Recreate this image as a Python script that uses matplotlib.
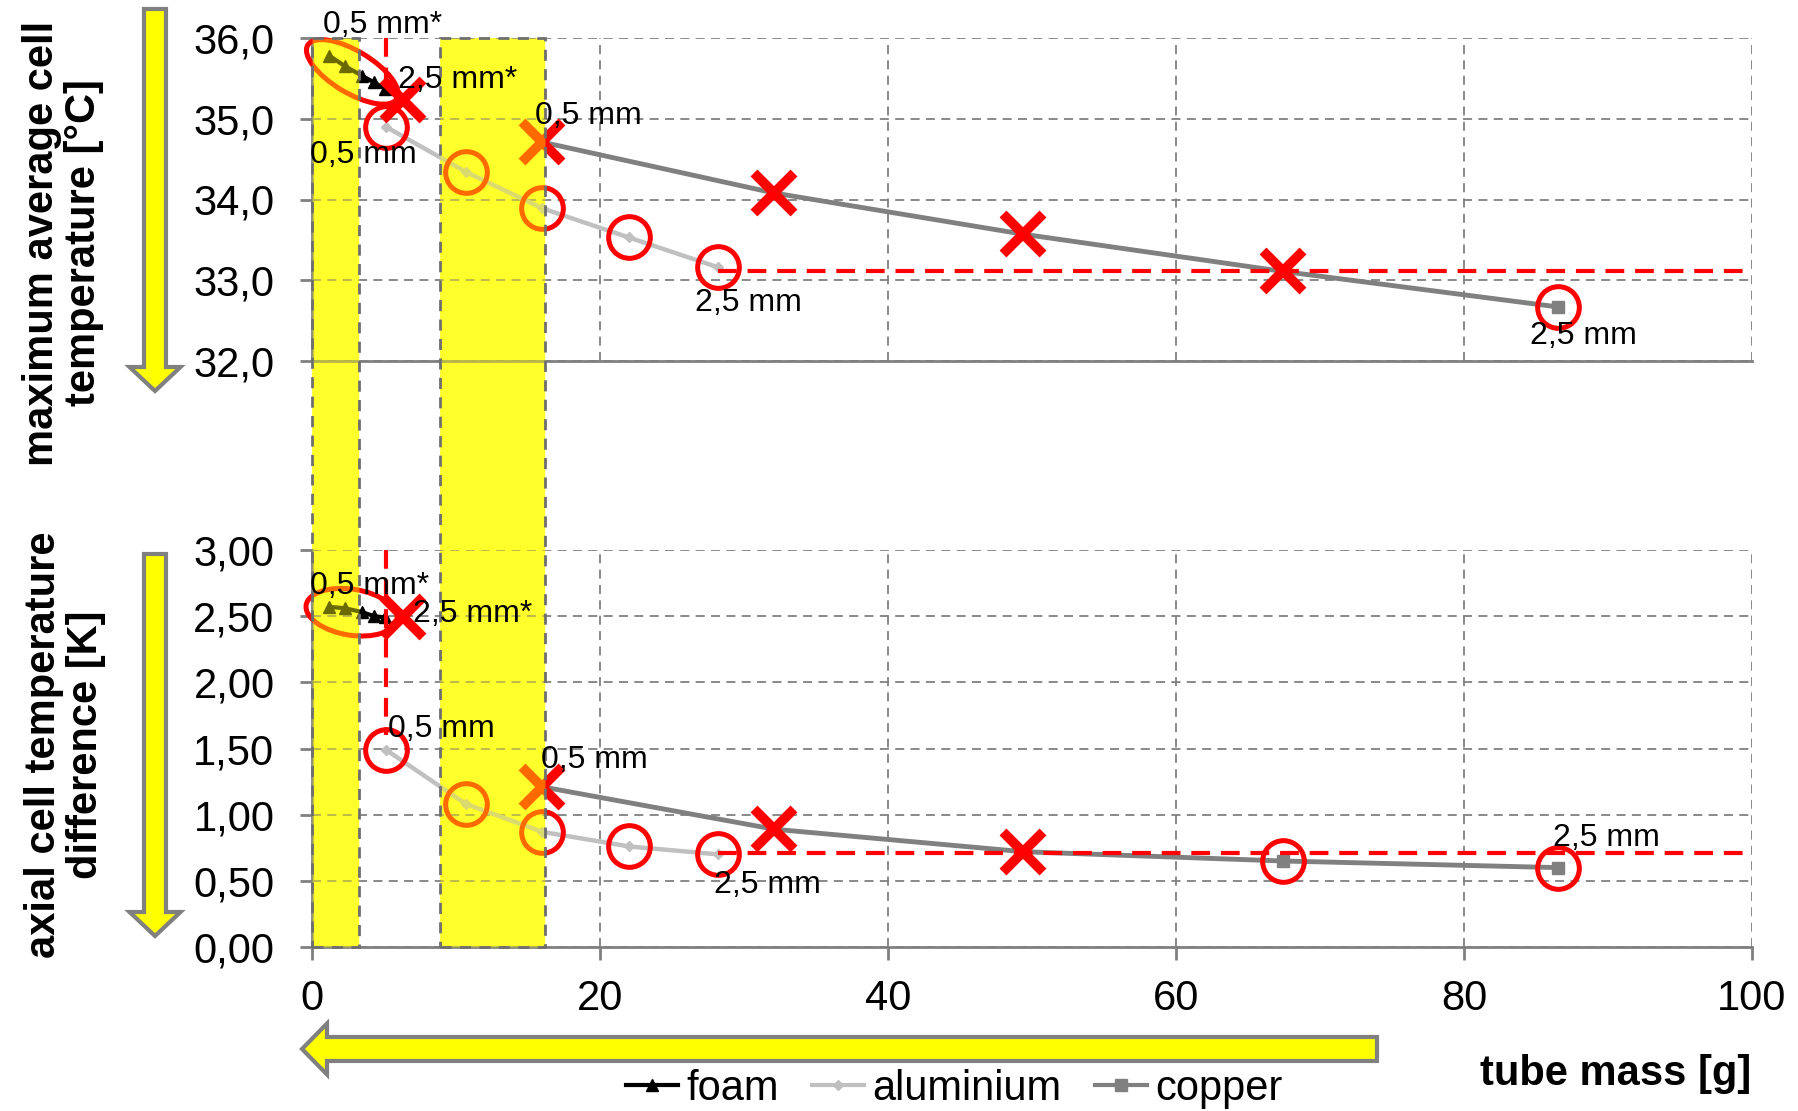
import numpy as np
import matplotlib
matplotlib.use("Agg")
import matplotlib.pyplot as plt
from matplotlib.patches import Ellipse, Rectangle, Polygon
from matplotlib.lines import Line2D
from matplotlib.transforms import ScaledTranslation, blended_transform_factory
from matplotlib.ticker import FuncFormatter

plt.rcParams['font.family'] = ['Liberation Sans', 'DejaVu Sans']

# ---- data (tube mass [g]) ----
foam_x = [1.2, 2.3, 3.5, 4.3, 5.1]
foam_tmax = [35.78, 35.65, 35.53, 35.45, 35.37]
foam_dt = [2.57, 2.56, 2.53, 2.50, 2.49]

alu_x = [5.14, 10.7, 16.0, 22.0, 28.2]
alu_tmax = [34.90, 34.34, 33.89, 33.53, 33.16]
alu_dt = [1.49, 1.08, 0.87, 0.76, 0.70]

cu_x = [16.0, 32.1, 49.4, 67.4, 86.5]
cu_tmax = [34.71, 34.08, 33.57, 33.11, 32.67]
cu_dt = [1.21, 0.89, 0.72, 0.65, 0.60]

# foam 2,5 mm* highlight point
foam_mark_x = 6.3
foam_mark_tmax = 35.23
foam_mark_dt = 2.49

# reference levels (best aluminium 2,5 mm)
ref_tmax = 33.12
ref_dt = 0.71
ref_x = 5.14

# yellow highlight ranges
bands = [(0.0, 3.26), (8.9, 16.2)]

top_labels = [(0.76, 36.16, "0,5 mm*"), (5.97, 35.48, "2,5 mm*"),
              (-0.15, 34.55, "0,5 mm"), (15.5, 35.03, "0,5 mm"),
              (26.6, 32.72, "2,5 mm"), (84.6, 32.31, "2,5 mm")]
bot_labels = [(-0.15, 2.73, "0,5 mm*"), (7.0, 2.52, "2,5 mm*"),
              (5.3, 1.65, "0,5 mm"), (15.9, 1.41, "0,5 mm"),
              (27.9, 0.47, "2,5 mm"), (86.2, 0.82, "2,5 mm")]

W, H = 1798, 1111
fig = plt.figure(figsize=(W / 100, H / 100), dpi=100)
ax1 = fig.add_axes([312 / W, 1 - 361 / H, 1440 / W, 323 / H])
ax2 = fig.add_axes([312 / W, 1 - 947 / H, 1440 / W, 397 / H])

RED = '#ff0000'
GRAY = '#808080'
ALU = '#c0c0c0'

for ax in (ax1, ax2):
    ax.set_facecolor('none')
    ax.set_xlim(0, 100)
    ax.set_xticks(range(0, 101, 20))
    ax.grid(True, color=GRAY, ls=(0, (5, 3.5)), lw=1.3)
    ax.set_axisbelow(True)
    for s in ('top', 'right'):
        ax.spines[s].set_visible(False)
    for s in ('left', 'bottom'):
        ax.spines[s].set_color(GRAY)
        ax.spines[s].set_linewidth(2)
    ax.tick_params(axis='y', labelsize=30, length=9, width=2, color=GRAY, pad=18)
    ax.tick_params(axis='x', labelsize=30, length=9, width=2, color=GRAY, pad=14)

ax1.set_ylim(32, 36)
ax1.set_yticks(np.arange(32, 36.01, 1))
ax1.yaxis.set_major_formatter(FuncFormatter(lambda v, p: f"{v:.1f}".replace('.', ',')))
ax1.tick_params(axis='x', length=0, labelbottom=False)

ax2.set_ylim(0, 3)
ax2.set_yticks(np.arange(0, 3.01, 0.5))
ax2.yaxis.set_major_formatter(FuncFormatter(lambda v, p: f"{v:.2f}".replace('.', ',')))
ax2.xaxis.set_major_formatter(FuncFormatter(lambda v, p: f"{v:.0f}"))


def draw_panel(ax, foam_y, alu_y, cu_y, fm_y, ref_y, ref_top, cross_cu, circ_cu, ell):
    ax.plot(alu_x, alu_y, color=ALU, lw=3.2, marker='D', ms=5, zorder=2)
    ax.plot(cu_x, cu_y, color=GRAY, lw=3.5, marker='s', ms=8, zorder=2)
    ax.plot(foam_x, foam_y, color='black', lw=3, marker='^', ms=8, zorder=2)
    # reference lines
    ax.plot([alu_x[-1], 100], [ref_y, ref_y], color=RED, lw=3, ls=(0, (4.5, 2.6)),
            zorder=3, clip_on=False)
    ax.plot([ref_x, ref_x], ref_top, color=RED, lw=3, ls=(0, (4.5, 2.6)), zorder=3)
    # highlight markers
    ax.plot(alu_x, alu_y, ls='none', marker='o', ms=30, mfc='none', mec=RED, mew=3.6, zorder=4)
    ax.plot([cu_x[i] for i in circ_cu], [cu_y[i] for i in circ_cu], ls='none', marker='o',
            ms=30, mfc='none', mec=RED, mew=3.6, zorder=4)
    ax.plot([foam_mark_x] + [cu_x[i] for i in cross_cu], [fm_y] + [cu_y[i] for i in cross_cu],
            ls='none', marker='x', ms=29, mec=RED, mew=7, zorder=4)
    ex, ey, ew, eh, ea = ell
    e = Ellipse((0, 0), ew, eh, angle=ea, fill=False, ec=RED, lw=3.6,
                transform=fig.dpi_scale_trans + ScaledTranslation(ex, ey, ax.transData),
                zorder=4, clip_on=False)
    ax.add_patch(e)


draw_panel(ax1, foam_tmax, alu_tmax, cu_tmax, foam_mark_tmax, ref_tmax, [36.0, 35.3],
           [0, 1, 2, 3], [4], (2.8, 35.58, 1.04, 0.42, -31))
draw_panel(ax2, foam_dt, alu_dt, cu_dt, foam_mark_dt, ref_dt, [3.0, 1.6],
           [0, 1, 2], [3, 4], (2.75, 2.53, 0.92, 0.46, -9))

# yellow bands spanning both panels: solid layer below, tint layer above the marks
y_lo = 1 - 947 / H
y_hi = 1 - 38 / H
btr = blended_transform_factory(ax2.transData, fig.transFigure)
for x0, x1 in bands:
    fig.add_artist(Rectangle((x0, y_lo), x1 - x0, y_hi - y_lo, transform=btr,
                             fc=(1, 1, 0, 0.7), ec='none', zorder=-1))
    fig.add_artist(Rectangle((x0, y_lo), x1 - x0, y_hi - y_lo, transform=btr,
                             fc=(1, 1, 0, 0.42), ec='#6e6e6e', lw=2, ls=(0, (4, 3)), zorder=1))

for ax, labels in ((ax1, top_labels), (ax2, bot_labels)):
    for x, y, s in labels:
        fig.text(x, y, s, transform=ax.transData, fontsize=23, ha='left', va='center', zorder=3)


# arrows (pixel geometry)
def to_fig(pts):
    return [(px / W, 1 - py / H) for px, py in pts]


def down_arrow(xc, top, base, tip, sw, hw):
    return to_fig([(xc - sw / 2, top), (xc + sw / 2, top), (xc + sw / 2, base), (xc + hw / 2, base),
                   (xc, tip), (xc - hw / 2, base), (xc - sw / 2, base)])


def left_arrow(yc, tail, base, tip, sw, hw):
    return to_fig([(tail, yc - sw / 2), (tail, yc + sw / 2), (base, yc + sw / 2), (base, yc + hw / 2),
                   (tip, yc), (base, yc - hw / 2), (base, yc - sw / 2)])


for pts in (down_arrow(155, 9, 367, 391, 22, 51),
            down_arrow(155, 554, 912, 936, 22, 51),
            left_arrow(1049, 1377, 327, 302, 24, 51)):
    fig.add_artist(Polygon(pts, closed=True, fc='#ffff00', ec=GRAY, lw=3, zorder=2))

fig.text(63 / W, 1 - 243 / H, "maximum average cell\ntemperature [°C]", rotation=90,
         ha='center', va='center', fontsize=30, fontweight='bold', linespacing=1.05)
fig.text(65 / W, 1 - 745 / H, "axial cell temperature\ndifference [K]", rotation=90,
         ha='center', va='center', fontsize=30, fontweight='bold', linespacing=1.05)
fig.text(1751 / W, 1 - 1074 / H, "tube mass [g]", ha='right', va='center',
         fontsize=30, fontweight='bold')

handles = [Line2D([], [], color='black', lw=3, marker='^', ms=8),
           Line2D([], [], color=ALU, lw=3, marker='D', ms=5),
           Line2D([], [], color=GRAY, lw=3, marker='s', ms=8)]
fig.legend(handles, ['foam', 'aluminium', 'copper'], loc='center',
           bbox_to_anchor=(954 / W, 1 - 1089 / H), ncol=3, frameon=False, fontsize=30,
           handlelength=1.25, handletextpad=0.2, columnspacing=0.8, borderpad=0,
           borderaxespad=0)

fig.savefig('out.png', dpi=100, facecolor='white')
